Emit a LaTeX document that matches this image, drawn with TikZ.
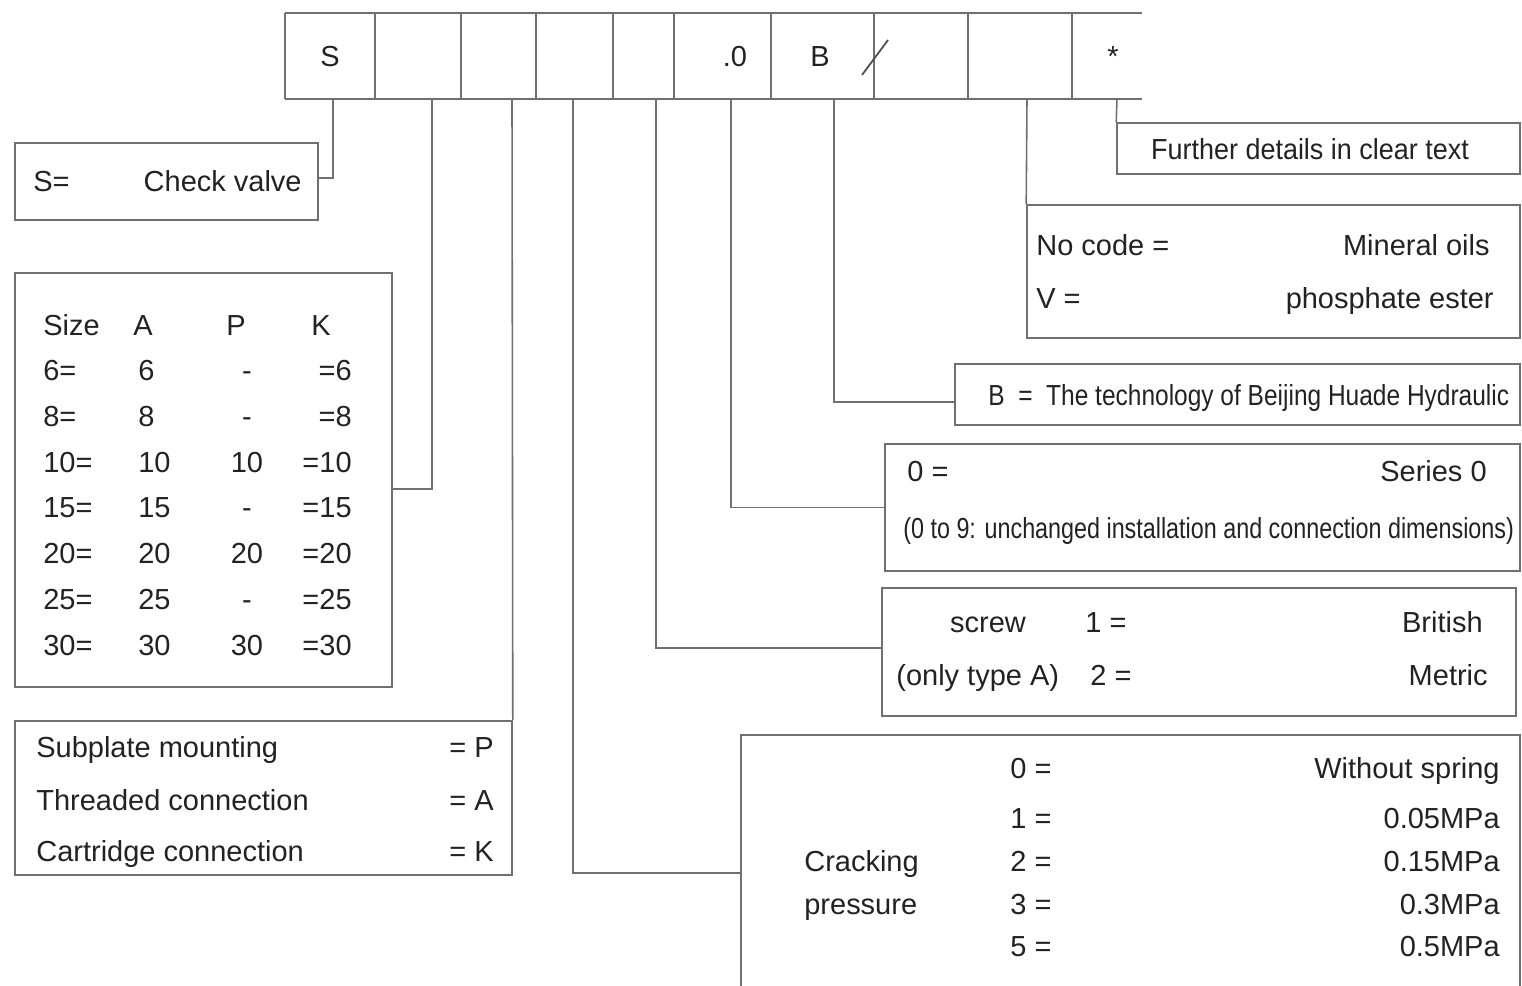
\documentclass[tikz,border=0pt]{standalone}
\usepackage{fontspec}
\setmainfont{Liberation Sans}
\usetikzlibrary{positioning,fit}
\definecolor{rulegray}{HTML}{707070}
\definecolor{ink}{HTML}{222222}
\newcommand{\narrowtxt}[2][0.82]{\scalebox{#1}[1]{#2}}

\begin{document}
\begin{tikzpicture}[x=0.02cm, y=-0.02cm,
    every node/.style={font=\fontsize{16.5}{19}\selectfont, text=ink,
                       inner sep=0pt, text height=12pt, text depth=0pt},
    box/.style={draw=rulegray, line width=0.9pt, inner sep=0pt},
    lead/.style={draw=rulegray, line width=0.9pt},
    lft/.style={anchor=west},
    rgt/.style={anchor=east},
  ]
  \clip (0,0) rectangle (1522,985);

  % code bar
  \draw[lead] (285,13) -- (1142,13) (285,99) -- (1142,99);
  \foreach \x in {285,375,461,536,613,674,771,874,968,1072}
    \draw[lead] (\x,13) -- (\x,99);
  \node (cS) at (330,56) {S};
  \node (cZero) at (735,56) {.0};
  \node (cB) at (820,56) {B};
  \draw[draw=ink!80, line width=1pt] (862,75) -- (888,40);
  \node (cStar) at (1113,56) {*};

  \coordinate (t1) at (333,99);
  \coordinate (t2) at (432,99);
  \coordinate (t3) at (512,99);
  \coordinate (t4) at (573,99);
  \coordinate (t5) at (656,99);
  \coordinate (t6) at (731,99);
  \coordinate (t7) at (834,99);
  \coordinate (t8) at (1027,99);
  \coordinate (t9) at (1117,99);

  % type
  \node[box, fit={(15,143) (318,220)}] (bS) {};
  \node[lft] (sKey) at (33,181) {S=};
  \node[rgt] (sVal) at (302,181) {Check valve};

  % size
  \node[box, fit={(15,273) (392,687)}] (bSize) {};
  \node[lft] (hSize) at (43,325) {Size};
  \node[lft] (hA) at (133,325) {A};
  \node (hP) at (236,325) {P};
  \node (hK) at (321,325) {K};
  \foreach \s/\a/\p/\k [count=\i] in {6/6/-/6, 8/8/-/8, 10/10/10/10,
      15/15/-/15, 20/20/20/20, 25/25/-/25, 30/30/30/30} {
    \pgfmathsetmacro\ry{370+45.8*(\i-1)}
    \node[lft] (s\i) at (43,\ry) {\s=};
    \node[lft] (a\i) at (138,\ry) {\a};
    \node (p\i) at (247,\ry) {\p};
    \node[rgt] (k\i) at (352,\ry) {=\k};
  }

  % mounting
  \node[box, fit={(15,721) (512,875)}] (bMount) {};
  \node[lft] (m1) at (36,747) {Subplate mounting};
  \node[rgt] (m1r) at (494,747) {= P};
  \node[lft] (m2) at (36,800) {Threaded connection};
  \node[rgt] (m2r) at (494,800) {= A};
  \node[lft] (m3) at (36,851) {Cartridge connection};
  \node[rgt] (m3r) at (494,851) {= K};

  % cracking pressure
  \node[box, fit={(741,735) (1520,1011)}] (bCrack) {};
  \node[lft] (cr1) at (804,861) {Cracking};
  \node[lft] (cr2) at (804,904) {pressure};
  \foreach \c/\v/\ry in {0/Without spring/768, 1/0.05MPa/818, 2/0.15MPa/861,
      3/0.3MPa/904, 5/0.5MPa/946} {
    \node[lft] (ck\c) at (1010,\ry) {\c\ =};
    \node[rgt] (cv\c) at (1500,\ry) {\v};
  }

  % thread
  \node[box, fit={(882,588) (1516,716)}] (bScrew) {};
  \node (sc1) at (988,622) {screw};
  \node[lft] (sc2) at (896,675) {(only type A)};
  \node[lft] (sk1) at (1085,622) {1 =};
  \node[rgt] (sv1) at (1483,622) {British};
  \node[lft] (sk2) at (1090,675) {2 =};
  \node[rgt] (sv2) at (1488,675) {Metric};

  % series
  \node[box, fit={(885,444) (1520,571)}] (bSeries) {};
  \node[lft] (se1) at (907,471) {0 =};
  \node[rgt] (se2) at (1487,471) {Series 0};
  \node[lft] (se3) at (903,528)
    {\narrowtxt[0.805]{(0 to 9: unchanged installation and connection dimensions)}};

  % technology
  \node[box, fit={(955,364) (1520,425)}] (bB) {};
  \node[lft] (bt) at (988,395)
    {\narrowtxt[0.845]{B\ \ =\ \ The technology of Beijing Huade Hydraulic}};

  % fluid
  \node[box, fit={(1027,205) (1520,338)}] (bOil) {};
  \node[lft] (o1) at (1036,245) {No code =};
  \node[rgt] (o1r) at (1490,245) {Mineral oils};
  \node[lft] (o2) at (1036,298) {V =};
  \node[rgt] (o2r) at (1494,298) {phosphate ester};

  % further details
  \node[box, fit={(1117,123) (1520,174)}] (bFur) {};
  \node (fur) at (1310,149) {\narrowtxt[0.93]{Further details in clear text}};

  % leaders
  \draw[lead] (t1) |- ([yshift=0.07cm]bS.east);
  \draw[lead] (t2) |- ([yshift=-0.18cm]bSize.east);
  \draw[lead] (t3) -- (bMount.north east);
  \draw[lead] (t4) |- (bCrack.west);
  \draw[lead] (t5) |- ([yshift=0.08cm]bScrew.west);
  \draw[lead] (t6) |- (bSeries.west);
  \draw[lead] (t7) |- ([yshift=-0.15cm]bB.west);
  \draw[lead] (t8) -- (bOil.north west);
  \draw[lead] (t9) -- (bFur.north west);
\end{tikzpicture}
\end{document}
